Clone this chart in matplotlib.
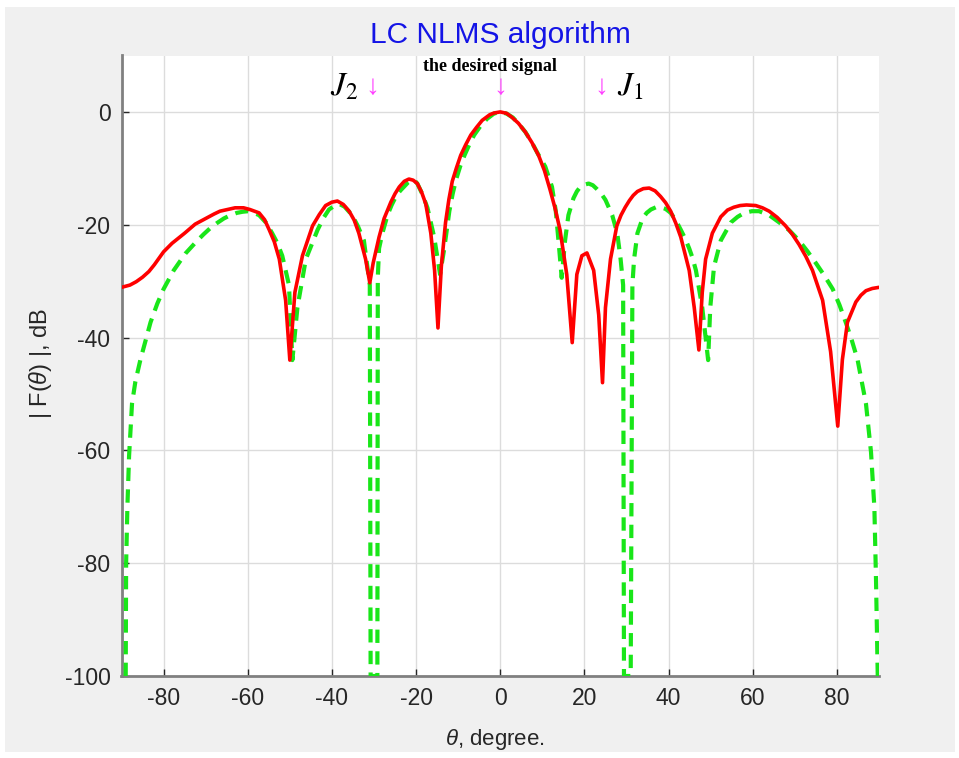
import numpy as np
import matplotlib
matplotlib.use('Agg')
import matplotlib.pyplot as plt
from matplotlib.patches import Rectangle

plt.rcParams['font.family'] = ['Liberation Sans', 'DejaVu Sans']
plt.rcParams['mathtext.fontset'] = 'custom'
plt.rcParams['mathtext.rm'] = 'Liberation Sans'
plt.rcParams['mathtext.it'] = 'Liberation Sans:italic'
plt.rcParams['axes.unicode_minus'] = False

# LC NLMS beam pattern (red, solid)
theta_lc = [-90, -89, -88, -86.5, -85, -83.5, -82.2, -80, -78, -75, -72.5, -70, -68,
            -66.6, -63, -61, -59.5, -57.3, -56, -54.9, -53.7, -52.5, -51.0, -50.0,
            -48.8, -47.0, -44.6, -43, -41.5, -40, -38.7, -37.3, -35.9, -34.7, -33.6,
            -32.0, -31.0, -30.2, -28.8, -27.6, -26.0, -25, -24.0, -22.8, -21.7, -20.7,
            -19.7, -18.7, -17.7, -16.5, -15.6, -14.8, -14.0, -13.0, -12.2, -11.4, -10.4,
            -9.4, -8.2, -7.0, -5.6, -4.3, -2.5, -1.5, 0, 1.5, 2.7, 4.3, 5.9, 7.5, 9.1,
            10.5, 11.8, 13.0, 14.2, 15.8, 17.1, 18.2, 19.4, 20.6, 22.2, 23.4, 24.3, 25.0,
            26.2, 27.7, 28.7, 29.7, 30.7, 31.6, 32.6, 34.0, 35.4, 36.8, 38.1, 39.3, 40.5, 41.7,
            42.9, 44.9, 46.1, 47.2, 48.0, 48.8, 50.4, 52.4, 54.0, 55.5, 57.0, 58.5, 60.7,
            62.3, 63.9, 65.8, 67.8, 69.4, 71.0, 72.6, 74.2, 76.6, 78.5, 80.2, 81.3, 82.5,
            84.5, 85.7, 86.9, 88.4, 90]
db_lc = [-31.1, -30.9, -30.7, -30.1, -29.3, -28.3, -27.1, -24.8, -23.3, -21.5, -19.9, -18.9, -18.1,
         -17.6, -17.0, -17.0, -17.3, -17.9, -19.1, -20.9, -23.0, -26.1, -33.4, -44.0,
         -32.0, -25.5, -20.2, -18.2, -16.6, -16.0, -15.8, -16.4, -17.6, -19.2, -21.5,
         -26.1, -30.3, -26.8, -22.2, -18.9, -16.0, -14.5, -13.3, -12.3, -11.9, -12.1,
         -12.7, -14.2, -16.3, -21.5, -28.1, -38.3, -27.4, -19.6, -15.5, -12.3, -9.9,
         -7.7, -5.8, -4.1, -2.7, -1.5, -0.5, -0.2, 0, -0.25, -0.9, -2.0, -3.5, -5.4, -7.7,
         -10.4, -13.7, -17.0, -20.9, -28.8, -40.9, -28.8, -25.5, -25.0, -28.1, -36.0, -48.0, -34.7,
         -26.1, -20.2, -18.3, -16.9, -15.7, -14.8, -14.1, -13.6, -13.5, -14.0, -15.0, -16.1, -17.6, -19.7,
         -22.2, -28.1, -34.7, -42.2, -32.0, -26.1, -21.5, -18.6, -17.4, -16.9, -16.6, -16.5, -16.6,
         -17.0, -17.6, -18.7, -20.2, -21.7, -23.5, -25.6, -28.1, -33.4, -42.5, -55.7, -43.9, -37.3,
         -33.7, -32.5, -31.7, -31.3, -31.1]

# reference pattern (green, dashed)
theta_ref = [-89.0, -88.9, -88.6, -88.2, -87.5, -86.7, -85.5, -84.3, -83.1, -81.5, -80.0,
             -77.6, -74.8, -72.1, -70.5, -68.9, -67.3, -65.7, -64.1, -62.6, -61.2, -59.9,
             -58.6, -57.3, -55.7, -54.2, -53.0, -51.8, -50.2, -49.4, -48.2, -46.2, -43.4,
             -42.0, -40.7, -39.5, -38.3, -37.0, -35.2, -33.8, -32.4, -31.0, -30.8, -29.2,
             -29.1, -28.8, -28.0, -26.8, -25.8, -24.8, -23.8, -22.9, -21.9, -20.9, -20.3,
             -19.7, -18.5, -17.3, -15.7, -14.3, -13.3, -12.1, -11.3, -10.5, -9.5, -8.5,
             -7.3, -6.2, -4.6, -3.1, -1.5, 0, 1.5, 3, 4.5, 6, 7.5, 9, 10.7, 12.3, 13.2,
             14.0, 14.6, 15.4, 16.2, 17.4, 18.2, 19.0, 20.0, 21.0, 22.0, 23.0, 24.0, 25.0,
             26.6, 27.8, 28.6, 29.2, 29.4, 31.0, 31.4, 31.8, 32.6, 33.8, 34.8, 35.8, 37.0,
             38.1, 39.3, 40.5, 41.7, 42.9, 43.9, 44.9, 45.7, 46.5, 48.0, 49.4, 49.9, 50.8,
             52.4, 54.8, 56.4, 58.0, 59.8, 61.5, 63.9, 66.3, 68.7, 71.0, 73.0, 75.0, 77.0,
             79.0, 80.6, 82.1, 83.5, 84.9, 86.9, 88.1, 88.9, 89.3, 89.7]
db_ref = [-100, -80, -70, -61, -51.7, -47.8, -43.9, -40.6, -37.3, -34.0, -31.4,
          -28.1, -25.1, -22.9, -21.7, -20.6, -19.7, -18.9, -18.3, -17.9, -17.7, -17.6,
          -17.9, -18.3, -19.6, -21.5, -23.2, -25.5, -30.7, -44.0, -34.7, -26.1, -20.9,
          -18.8, -17.3, -16.7, -16.3, -16.8, -18.3, -20.3, -22.8, -30.7, -100, -100,
          -29.4, -24.2, -21.5, -18.3, -16.5, -15.0, -14.0, -13.3, -12.5, -12.0, -12.2,
          -12.7, -14.6, -17.0, -22.2, -28.8, -24.2, -17.6, -14.5, -12.0, -9.6, -7.7,
          -5.7, -4.1, -2.4, -1.2, -0.3, 0, -0.3, -1.0, -2.2, -3.6, -5.4, -7.5, -9.7, -13.3, -17.6,
          -24.2, -29.4, -22.8, -18.3, -15.3, -14.1, -13.3, -12.9, -12.7, -13.0, -13.7, -14.5, -15.6,
          -18.3, -21.5, -26.1, -30.7, -100, -100, -30.7, -26.1, -21.5, -18.9, -17.9, -17.3, -16.9,
          -16.9, -17.2, -17.9, -19.2, -20.9, -22.4, -24.2, -25.9, -28.1, -34.7, -44.0, -34.7, -27.4,
          -22.8, -19.6, -18.6, -17.9, -17.6, -17.6, -18.3, -19.6, -21.0, -22.8, -24.7, -26.8, -29.0,
          -31.4, -34.2, -37.3, -40.4, -43.9, -51.7, -60.3, -70.1, -83.3, -100]

x_ticks = [-80, -60, -40, -20, 0, 20, 40, 60, 80]
y_ticks = [-100, -80, -60, -40, -20, 0]

W, H = 959, 758
fig = plt.figure(figsize=(W / 100, H / 100), dpi=100, facecolor='white')
fig.patches.append(Rectangle((5 / W, 1 - 752 / H), 950 / W, 745 / H,
                             transform=fig.transFigure, facecolor='#f0f0f0',
                             edgecolor='none', zorder=-10))

ax = fig.add_axes([121.5 / W, 1 - 676 / H, 757.5 / W, 620.5 / H])
ax.set_zorder(1)
ax.set_facecolor('white')

ax.plot(theta_ref, db_ref, color='#19e619', lw=3.0, linestyle=(0, (3.2, 2.0)), zorder=3)
ax.plot(theta_lc, db_lc, color='#ff0000', lw=2.6, zorder=4, solid_joinstyle='round')

ax.set_xlim(-90, 90)
ax.set_ylim(-100, 10)
ax.set_xticks(x_ticks)
ax.set_yticks(y_ticks)
ax.grid(True, color='#dcdcdc', lw=1.0)
ax.set_axisbelow(True)
ax.tick_params(direction='in', length=5, width=1, colors='#262626', labelsize=16.5, pad=8)
for s in ['top', 'right']:
    ax.spines[s].set_visible(False)
for s in ['left', 'bottom']:
    ax.spines[s].set_color('#808080')
    ax.spines[s].set_linewidth(2)

ax.set_xlabel(r'$\theta$, degree.', fontsize=16, color='#262626', va='center')
ax.xaxis.set_label_coords((495 - 121.5) / 757.5, (676 - 740) / 620.5)
ax.set_ylabel(r'| F($\theta$) |, dB', fontsize=17, color='#262626', va='center')
ax.yaxis.set_label_coords((40 - 121.5) / 757.5, (676 - 363) / 620.5)

fig.text(500 / W, 1 - 35 / H, 'LC NLMS algorithm', color='#1414e6', fontsize=21.5,
         ha='center', va='center')

# annotations above the main lobe
serif = ['Liberation Serif', 'DejaVu Serif']
arrow_col = '#ff40ff'
ax.text(-2.4, 8.0, 'the desired signal', family=serif, fontweight='bold',
        fontsize=13, ha='center', va='center', color='black')
for xa in [-30.4, 0, 24.1]:
    ax.text(xa, 4.3, '\u2193', family=serif, fontsize=20, ha='center', va='center',
            color=arrow_col)
ax.text(-37.0, 4.5, r'$J_2$', math_fontfamily='stix', fontsize=24, ha='center',
        va='center', color='black')
ax.text(30.8, 4.5, r'$J_1$', math_fontfamily='stix', fontsize=24, ha='center',
        va='center', color='black')

fig.savefig('out.png', dpi=100, facecolor=fig.get_facecolor())
